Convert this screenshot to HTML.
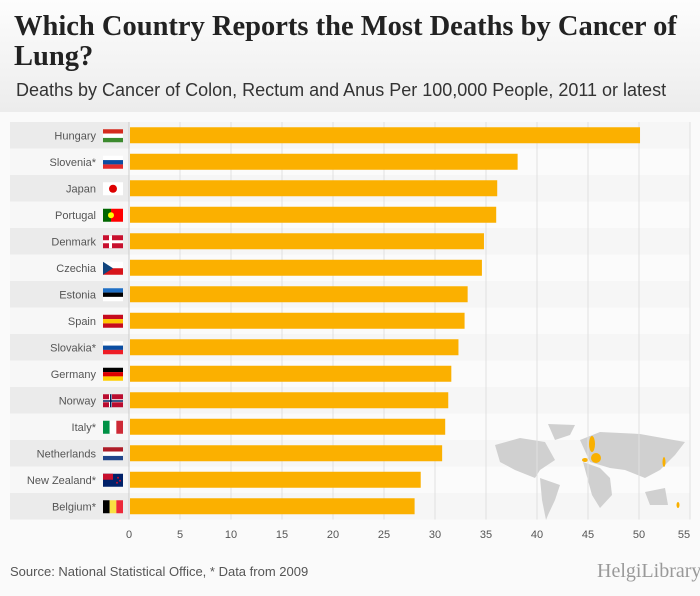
<!DOCTYPE html>
<html><head><meta charset="utf-8"><style>
body{margin:0;width:700px;height:596px;background:#fafafa;font-family:"Liberation Sans",sans-serif;overflow:hidden;position:relative}
#hdr{position:absolute;left:0;top:0;width:700px;height:112px;background:linear-gradient(#fdfdfd,#ececec)}
#title{position:absolute;left:14px;top:12px;font-family:"Liberation Serif",serif;font-weight:bold;font-size:28.5px;line-height:30px;color:#222;width:686px}
#sub{position:absolute;left:16px;top:80px;font-size:18px;color:#333}
#src{position:absolute;left:10px;top:564px;font-size:13px;color:#555}
#logo{position:absolute;left:597px;top:560px;font-size:20px;color:#999;font-family:"Liberation Serif",serif}
</style></head><body>
<div id="hdr"></div>
<div id="title">Which Country Reports the Most Deaths by Cancer of Lung?</div>
<div id="sub">Deaths by Cancer of Colon, Rectum and Anus Per 100,000 People, 2011 or latest</div>
<svg id="c" width="700" height="596" style="position:absolute;left:0;top:0"></svg>
<div id="src">Source: National Statistical Office, * Data from 2009</div>
<div id="logo">HelgiLibrary.</div>
<script>
const countries=["Hungary","Slovenia*","Japan","Portugal","Denmark","Czechia","Estonia","Spain","Slovakia*","Germany","Norway","Italy*","Netherlands","New Zealand*","Belgium*"];
const values=[50.1,38.1,36.1,36.0,34.8,34.6,33.2,32.9,32.3,31.6,31.3,31.0,30.7,28.6,28.0];
const ticks=[0,5,10,15,20,25,30,35,40,45,50,55];
const flags=[["#d52b1e","#fff","#3c8a2e"],["#fff","#0c4da2","#e52b2b"],["J"],["#006600","#ff0000","V"],["D"],["C"],["#1f6fc5","#000","#fff"],["#c60b1e","#ffc400","#c60b1e"],["#fff","#0b4ea2","#ee1c25"],["#000","#dd0000","#ffce00"],["N"],["#009246","#fff","#ce2b37","V"],["#ae1c28","#fff","#21468b"],["NZ"],["#000","#fae042","#ed2939","V"]];
const svg=document.getElementById('c'),NS="http://www.w3.org/2000/svg";
const x0=129,sc=10.2,y0=122,rh=26.5;
const X=v=>x0+v*sc, Y=i=>y0+i*rh;
function mk(t,a,p){const e=document.createElementNS(NS,t);for(const k in a)e.setAttribute(k,a[k]);(p||svg).appendChild(e);return e;}
countries.forEach((c,i)=>{const r=mk('rect',{x:10,y:Y(i),width:680,height:rh,fill:i%2?'#f7f7f7':'#ebebeb'});});
mk('rect',{x:x0,y:y0,width:561,height:rh*15,fill:'#fff',opacity:0.55});
const g=mk('g',{fill:'#d0d0d0'});
[[495,445,520,438,545,442,555,460,540,470,535,478,515,470,500,462],[540,478,560,485,555,500,548,515,546,520,542,500],[580,440,600,432,640,434,685,442,675,455,660,470,645,478,625,470,610,468,590,462],[583,462,600,468,610,478,612,495,600,508,592,495],[645,492,665,488,668,505,650,505],[548,424,575,425,570,435,555,440]].forEach(p=>{mk('polygon',{points:p.join(' ')},g);});
[[592,444,3,8],[596,458,5,5],[585,460,3,2],[664,462,1.5,5],[678,505,1.5,3]].forEach(a=>mk('ellipse',{cx:a[0],cy:a[1],rx:a[2],ry:a[3],fill:'#f9b000'}));
ticks.forEach(t=>{const l=mk('line',{x1:X(t),x2:X(t),y1:y0,y2:y0+rh*15,stroke:'#e0e0e0','stroke-width':1});
const tx=mk('text',{x:X(t)-(t==55?6:0),y:538,'text-anchor':'middle','font-size':11,fill:'#555'});tx.textContent=t;});
mk('line',{x1:x0,x2:x0,y1:y0,y2:y0+rh*15,stroke:'#ccc'});
countries.forEach((c,i)=>{const cy=Y(i)+rh/2;
const b=mk('rect',{x:x0+1,y:cy-8,width:X(values[i])-x0-1,height:16,fill:'#fbb000'});
const t=mk('text',{x:96,y:cy+4,'text-anchor':'end','font-size':11,fill:'#555'});t.textContent=c;
const f=flags[i],fx=103,fy=cy-6,fw=20,fh=13,fg=mk('g',{});
if(f[0]=="J"){mk('rect',{x:fx,y:fy,width:fw,height:fh,fill:'#fff'},fg);mk('circle',{cx:fx+10,cy:fy+6.5,r:4,fill:'#d00'},fg);}
else if(f[0]=="D"||f[0]=="N"){mk('rect',{x:fx,y:fy,width:fw,height:fh,fill:f[0]=="D"?'#c8102e':'#ba0c2f'},fg);mk('rect',{x:fx+6,y:fy,width:3,height:fh,fill:'#fff'},fg);mk('rect',{x:fx,y:fy+5,width:fw,height:3,fill:'#fff'},fg);if(f[0]=="N"){mk('rect',{x:fx+7,y:fy,width:1.5,height:fh,fill:'#00205b'},fg);mk('rect',{x:fx,y:fy+6,width:fw,height:1.5,fill:'#00205b'},fg);}}
else if(f[0]=="C"){mk('rect',{x:fx,y:fy,width:fw,height:fh/2,fill:'#fff'},fg);mk('rect',{x:fx,y:fy+fh/2,width:fw,height:fh/2,fill:'#d7141a'},fg);mk('polygon',{points:`${fx},${fy} ${fx+10},${fy+fh/2} ${fx},${fy+fh}`,fill:'#11457e'},fg);}
else if(f[0]=="NZ"){mk('rect',{x:fx,y:fy,width:fw,height:fh,fill:'#012169'},fg);mk('rect',{x:fx,y:fy,width:10,height:6,fill:'#c8102e'},fg);[[15,4],[17,7],[14,9]].forEach(s=>mk('circle',{cx:fx+s[0],cy:fy+s[1],r:1,fill:'#c8102e'},fg));}
else if(f[f.length-1]=="V"&&f.length==4){for(let k=0;k<3;k++)mk('rect',{x:fx+k*fw/3,y:fy,width:fw/3,height:fh,fill:f[k]},fg);}
else if(f[2]=="V"){mk('rect',{x:fx,y:fy,width:8,height:fh,fill:f[0]},fg);mk('rect',{x:fx+8,y:fy,width:12,height:fh,fill:f[1]},fg);mk('circle',{cx:fx+8,cy:fy+6.5,r:3,fill:'#ff0'},fg);}
else{for(let k=0;k<3;k++)mk('rect',{x:fx,y:fy+k*fh/3,width:fw,height:fh/3,fill:f[k]},fg);}
});
</script>
</body></html>
